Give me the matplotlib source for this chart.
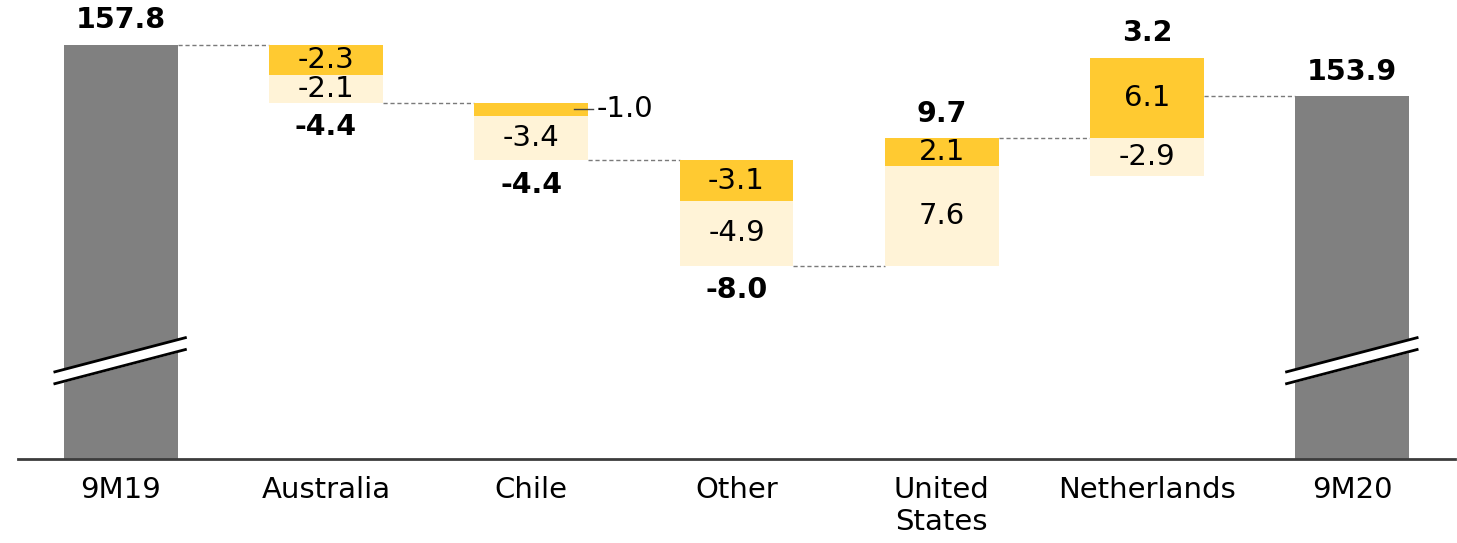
import numpy as np
import matplotlib
matplotlib.use("Agg")
import matplotlib.pyplot as plt

plt.rcParams['font.family'] = ['DejaVu Sans']

# categories and values
categories = ['9M19', 'Australia', 'Chile', 'Other', 'United\nStates', 'Netherlands', '9M20']
start_total = 157.8
end_total = 153.9
dark_part = [-2.3, -1.0, -3.1, 2.1, 6.1]
light_part = [-2.1, -3.4, -4.9, 7.6, -2.9]
net_change = [-4.4, -4.4, -8.0, 9.7, 3.2]

axis_floor = 126.3
c_gray = '#808080'
c_dark = '#FFCA31'
c_light = '#FFF3D7'
width = 0.555
fs = 21
gap = 7.5

fig = plt.figure(figsize=(14.57, 5.43), dpi=100)
ax = fig.add_axes([18 / 1457, 1 - 459 / 543, 1437 / 1457, 459 / 543])
ax.set_xlim(-0.5, 6.5)
ax.set_ylim(axis_floor, 161.2)

x = np.arange(len(categories))

# broken totals at both ends
for xi, val in [(0, start_total), (6, end_total)]:
    ax.bar(xi, val - axis_floor, bottom=axis_floor, width=width, color=c_gray, zorder=2)
    ax.annotate(f'{val:.1f}', (xi, val), xytext=(0, gap), textcoords='offset points',
                ha='center', va='bottom', fontsize=fs - 0.5, fontweight='bold')
    # break marks
    bx = np.array([xi - 0.327, xi + 0.322])
    y_hi = np.array([132.9, 135.55])
    y_lo = y_hi - 0.9
    ax.fill_between(bx, y_lo, y_hi, color='white', zorder=3)
    ax.plot(bx, y_hi, color='black', lw=2, zorder=4, solid_capstyle='butt')
    ax.plot(bx, y_lo, color='black', lw=2, zorder=4, solid_capstyle='butt')

level = start_total
levels = [level]
for i, (d, l, n) in enumerate(zip(dark_part, light_part, net_change)):
    xi = i + 1
    up = level
    down = level
    # negatives stack downward dark first, positives stack upward light first
    for val, col in [(d, c_dark), (l, c_light)]:
        if val < 0:
            ax.bar(xi, val, bottom=down, width=width, color=col, zorder=2)
            mid = down + val / 2
            down += val
            if abs(val) >= 1.5:
                ax.text(xi, mid, f'{val:.1f}', ha='center', va='center', fontsize=fs, zorder=5)
            else:
                ax.plot([xi + 0.21, xi + 0.30], [mid, mid], color='#444444', lw=1, zorder=5)
                ax.text(xi + 0.32, mid, f'{val:.1f}', ha='left', va='center', fontsize=fs, zorder=5)
    for val, col in [(l, c_light), (d, c_dark)]:
        if val > 0:
            ax.bar(xi, val, bottom=up, width=width, color=col, zorder=2)
            ax.text(xi, up + val / 2, f'{val:.1f}', ha='center', va='center', fontsize=fs, zorder=5)
            up += val
    if n < 0:
        ax.annotate(f'{n:.1f}', (xi, down), xytext=(0, -gap), textcoords='offset points',
                    ha='center', va='top', fontsize=fs - 0.5, fontweight='bold')
    else:
        ax.annotate(f'{n:.1f}', (xi, up), xytext=(0, gap), textcoords='offset points',
                    ha='center', va='bottom', fontsize=fs - 0.5, fontweight='bold')
    level += n
    levels.append(level)

# dashed connectors between neighbouring bars
for i, lv in enumerate(levels):
    ax.plot([i + width / 2, i + 1 - width / 2], [lv, lv], color='#7a7a7a',
            lw=1, ls=(0, (3, 2)), zorder=1)

ax.set_xticks(x)
ax.set_xticklabels(categories)
ax.tick_params(axis='x', length=0, pad=12, labelsize=fs)
for lab in ax.get_xticklabels():
    lab.set_linespacing(1.4)
ax.set_yticks([])
for s in ['top', 'left', 'right']:
    ax.spines[s].set_visible(False)
ax.spines['bottom'].set_color('#3c3c3c')
ax.spines['bottom'].set_linewidth(2)
ax.spines['bottom'].set_position(('data', axis_floor))

fig.savefig('out.png', dpi=100)
